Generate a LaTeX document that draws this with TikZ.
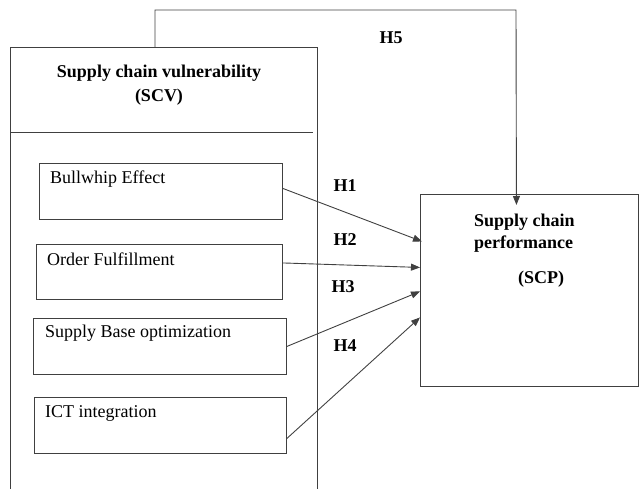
\documentclass[tikz,border=0pt]{standalone}
\usepackage{fontspec}
\setmainfont{Liberation Serif}
\usetikzlibrary{arrows.meta,calc}
\begin{document}
\begin{tikzpicture}[x=1pt,y=-1pt,
  line/.style={draw=black!75,line width=0.9pt},
  itembox/.style={line,rectangle,inner sep=0pt,anchor=north west},
  itemtext/.style={anchor=west,inner sep=0pt,font=\fontsize{18}{22}\selectfont},
  boldtext/.style={inner sep=0pt,font=\fontsize{18}{22}\selectfont\bfseries},
  arr/.style={line,-{Triangle[length=9pt,width=7pt]}}
]
\useasboundingbox (0,0) rectangle (640,489);
% outer SCV container (open at bottom)
\draw[line] (10,489) -- (10,47.5) -- (317,47.5) -- (317,489);
\draw[line] (10,132) -- (313,132);
\coordinate (scvtop) at (155,47.5);
\node[boldtext,align=center,font=\fontsize{18}{24}\selectfont\bfseries] (scvtitle) at (159,85) {Supply chain vulnerability\\(SCV)};
% item boxes
\node[itembox,minimum width=243pt,minimum height=56pt] (b1) at (39,163) {};
\node[itembox,minimum width=246pt,minimum height=55pt] (b2) at (36,244) {};
\node[itembox,minimum width=253pt,minimum height=56pt] (b3) at (33,318) {};
\node[itembox,minimum width=252pt,minimum height=56pt] (b4) at (34,397) {};
\node[itemtext] (t1) at (50,179) {Bullwhip Effect};
\node[itemtext] (t2) at (47,259) {Order Fulfillment};
\node[itemtext] (t3) at (45,333) {Supply Base optimization};
\node[itemtext] (t4) at (45,413) {ICT integration};
% SCP box
\node[line,rectangle,inner sep=0pt,anchor=north west,minimum width=218pt,minimum height=192pt] (scp) at (420,194) {};
\node[boldtext,anchor=west] (scp1) at (474,222) {Supply chain};
\node[boldtext,anchor=west] (scp2) at (474,244) {performance};
\node[boldtext] (scp3) at (541,279) {(SCP)};
% arrows
\draw[arr] ($(b1.east)+(0,-3)$) -- ($(scp.west)+(2,-49)$);
\draw[arr] ($(b2.east)+(0,-9)$) -- ($(scp.west)+(0,-23)$);
\draw[arr] ($(b3.east)+(0,0)$) -- ($(scp.west)+(0,1)$);
\draw[arr] ($(b4.east)+(0,13)$) -- ($(scp.west)+(0,27)$);
\coordinate (h5end) at ($(scp.north)+(-13,11)$);
\draw[arr] (scvtop) -- (155,10) -- (516,10) -- (h5end);
% labels
\node[boldtext] (h1) at (345,186) {H1};
\node[boldtext] (h2) at (345,240) {H2};
\node[boldtext] (h3) at (343,287) {H3};
\node[boldtext] (h4) at (345,346) {H4};
\node[boldtext] (h5) at (391,38) {H5};
\end{tikzpicture}
\end{document}
